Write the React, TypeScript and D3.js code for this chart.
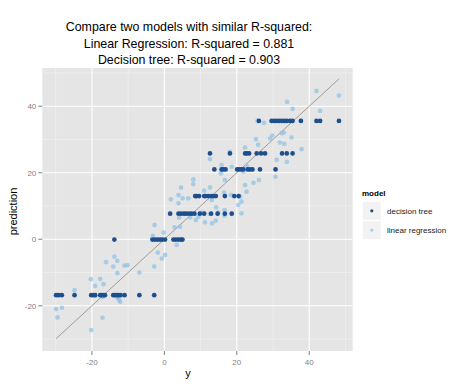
import React from "react";
import * as d3 from "d3";

// Decision tree: actual (y) and predicted values
const dtActual = [
  -29.9, -29.2, -28.3, -24.8, -20.2, -19.6, -19.1, -17.7, -17.3, -16.8, -16.4, -14.1, -13.6, -13.1, -12.7, -12.1, -11.0, -6.9, -2.8,
  -13.8, -3.3, -2.6, -1.9, -1.2, -0.6, 0.2, 2.5, 3.2, 3.9, 4.6, 5.0,
  1.6, 3.9, 4.6, 5.4, 6.0, 6.8, 7.5, 8.3, 9.8, 11.0, 12.9, 14.7, 16.7, 18.6,
  8.5, 8.9, 9.6, 11.0, 11.4, 12.1, 12.9, 13.5, 14.2, 16.7, 19.3, 20.5,
  13.8, 15.8, 16.3, 16.9, 20.1, 20.6, 21.2, 21.8, 23.0, 23.6, 24.3, 26.4, 30.7,
  12.6, 18.1, 22.3, 22.8, 23.4, 25.5, 26.7, 27.8, 32.5, 33.8, 35.4,
  26.1, 29.6, 30.3, 31.0, 31.7, 32.4, 33.1, 33.8, 34.7, 35.4, 37.7, 42.0, 43.0, 48.2,
];
const dtPred = [
  -16.8, -16.8, -16.8, -16.8, -16.8, -16.8, -16.8, -16.8, -16.8, -16.8, -16.8, -16.8, -16.8, -16.8, -16.8, -16.8, -16.8, -16.8, -16.8,
  -0.1, -0.1, -0.1, -0.1, -0.1, -0.1, -0.1, -0.1, -0.1, -0.1, -0.1, -0.1,
  7.7, 7.7, 7.7, 7.7, 7.7, 7.7, 7.7, 7.7, 7.7, 7.7, 7.7, 7.7, 7.7, 7.7,
  13.0, 13.0, 13.0, 13.0, 13.0, 13.0, 13.0, 13.0, 13.0, 13.0, 13.0, 13.0,
  21.0, 21.0, 21.0, 21.0, 21.0, 21.0, 21.0, 21.0, 21.0, 21.0, 21.0, 21.0, 21.0,
  25.8, 25.8, 25.8, 25.8, 25.8, 25.8, 25.8, 25.8, 25.8, 25.8, 25.8,
  35.6, 35.6, 35.6, 35.6, 35.6, 35.6, 35.6, 35.6, 35.6, 35.6, 35.6, 35.6, 35.6, 35.6,
];

// Linear regression: actual (y) and predicted values
const lrActual = [
  -29.9, -28.3, -29.5, -24.8, -20.2, -20.3, -19.1, -17.7, -16.8, -17.1, -17.0, -16.1, -13.8, -13.0, -14.1, -11.0, -13.0, -12.9, -12.5, -12.2,
  -6.9, -2.8, -1.8, 0.2, -0.7, -3.2, -0.2, -2.7, 2.8, 3.4, 4.3, -10.2,
  4.1, 7.1, 8.7, 9.4, 10.3, 11.2, 13.2, 14.2, 12.6, 14.9, 16.6, 14.3, 16.6, 20.4, 21.3, 3.9,
  1.8, 3.9, 5.0, 6.6, 4.6, 8.0, 8.0, 11.0, 12.6, 13.1, 13.2, 16.5, 18.4, 20.9, 21.3, 22.7, 22.3, 24.6, 26.1, 16.7, 15.6, 30.7,
  12.6, 15.8, 18.6, 21.8, 22.7, 24.3, 18.1, 22.3, 25.3, 25.9, 29.2, 29.8, 32.4, 31.9, 33.1, 35.1, 37.9, 31.0, 33.8,
  25.7, 27.5, 37.7, 33.9, 35.4, 42.0, 43.0, 48.2, 33.0,
];
const lrPred = [
  -21.0, -20.6, -23.5, -15.3, -27.3, -12.0, -14.0, -11.9, -13.5, -23.6, -17.3, -6.9, -5.2, -6.5, -8.2, -7.9, -10.2, -17.6, -18.2, -18.8,
  -10.0, -8.2, -4.0, -4.7, -5.8, 1.0, 2.0, 4.3, 3.6, -1.7, 3.8, -7.8,
  6.5, 6.6, 5.8, 6.8, 8.0, 5.1, 4.8, 5.6, 7.6, 8.0, 7.1, 9.6, 8.8, 10.3, 7.8, 10.8,
  12.0, 13.3, 12.3, 12.3, 15.5, 18.0, 16.6, 14.6, 15.6, 11.8, 13.0, 14.0, 13.3, 12.8, 11.3, 14.3, 16.3, 17.0, 17.8, 17.8, 19.8, 18.8,
  24.1, 22.3, 21.8, 20.3, 22.1, 21.0, 26.3, 27.6, 30.1, 28.4, 30.3, 31.2, 31.9, 29.1, 28.7, 30.6, 27.1, 23.9, 23.3,
  35.6, 35.0, 35.7, 41.3, 39.2, 44.6, 38.6, 43.2, 32.1,
];

const xTicks = [-20, 0, 20, 40];
const yTicks = [-20, 0, 20, 40];
const minorTicks = [-30, -10, 10, 30, 50];
const titleLines = [
  "Compare two models with similar R-squared:",
  "Linear Regression: R-squared = 0.881",
  "Decision tree: R-squared = 0.903",
];
const legendLabels = ["decision tree", "linear regression"];

const DARK = "#1d4f8e";
const LIGHT = "#92c3e3";

export default function App() {
  const left = 42.3, right = 352.7, top = 68, bottom = 351;
  const x = d3.scaleLinear().domain([-33.7, 52.0]).range([left, right]);
  const y = d3.scaleLinear().domain([-33.6, 51.5]).range([bottom, top]);
  const allActual = dtActual.concat(lrActual);
  const lo = d3.min(allActual) as number;
  const hi = d3.max(allActual) as number;
  const lineGen = d3.line<number>().x((d) => x(d)).y((d) => y(d));
  const font = "Liberation Sans, Arial, sans-serif";

  return (
    <svg width={474} height={387} style={{ position: "absolute", left: 0, top: 0, background: "#fff" }} fontFamily={font}>
      <rect x={0} y={0} width={474} height={387} fill="#fff" />
      {titleLines.map((t, i) => (
        <text key={i} x={189} y={31 + i * 16.5} textAnchor="middle" fontSize={12.4} fill="#000">{t}</text>
      ))}
      <rect x={left} y={top} width={right - left} height={bottom - top} fill="#e5e5e5" />
      {minorTicks.filter((v) => x(v) > left && x(v) < right).map((v) => (
        <line key={"mx" + v} x1={x(v)} x2={x(v)} y1={top} y2={bottom} stroke="#f2f2f2" strokeWidth={0.6} />
      ))}
      {minorTicks.filter((v) => y(v) > top && y(v) < bottom).map((v) => (
        <line key={"my" + v} y1={y(v)} y2={y(v)} x1={left} x2={right} stroke="#f2f2f2" strokeWidth={0.6} />
      ))}
      {xTicks.map((v) => (
        <line key={"gx" + v} x1={x(v)} x2={x(v)} y1={top} y2={bottom} stroke="#fff" strokeWidth={1.1} />
      ))}
      {yTicks.map((v) => (
        <line key={"gy" + v} y1={y(v)} y2={y(v)} x1={left} x2={right} stroke="#fff" strokeWidth={1.1} />
      ))}
      <path d={lineGen([lo, hi]) || ""} stroke="#a39a95" strokeWidth={1} fill="none" />
      {lrActual.map((a, i) => (
        <circle key={"lr" + i} cx={x(a)} cy={y(lrPred[i])} r={2.35} fill={LIGHT} fillOpacity={0.75} />
      ))}
      {dtActual.map((a, i) => (
        <circle key={"dt" + i} cx={x(a)} cy={y(dtPred[i])} r={2.35} fill={DARK} />
      ))}
      {xTicks.map((v) => (
        <g key={"tx" + v}>
          <line x1={x(v)} x2={x(v)} y1={bottom} y2={bottom + 4} stroke="#7f7f7f" strokeWidth={1} />
          <text x={x(v)} y={bottom + 14} textAnchor="middle" fontSize={8} fill="#7f7f7f">{v}</text>
        </g>
      ))}
      {yTicks.map((v) => (
        <g key={"ty" + v}>
          <line x1={left - 4} x2={left} y1={y(v)} y2={y(v)} stroke="#7f7f7f" strokeWidth={1} />
          <text x={left - 6} y={y(v) + 2.9} textAnchor="end" fontSize={8} fill="#7f7f7f">{v}</text>
        </g>
      ))}
      <text x={188} y={377} textAnchor="middle" fontSize={11} fill="#000">y</text>
      <text transform={`translate(17,${(top + bottom) / 2 + 2}) rotate(-90)`} textAnchor="middle" fontSize={11} fill="#000">prediction</text>
      <text x={362} y={196} fontSize={8} fontWeight="bold" fill="#000">model</text>
      {legendLabels.map((l, i) => (
        <g key={l}>
          <rect x={362.7} y={201.7 + i * 19.3} width={18.3} height={18.3} fill="#f2f2f2" stroke="#fff" strokeWidth={0.5} />
          <circle cx={371.8} cy={210.8 + i * 19.3} r={1.6} fill={i === 0 ? DARK : LIGHT} fillOpacity={i === 0 ? 1 : 0.75} />
          <text x={387} y={213.6 + i * 19.6} fontSize={8} fill="#1a1a1a">{l}</text>
        </g>
      ))}
    </svg>
  );
}
